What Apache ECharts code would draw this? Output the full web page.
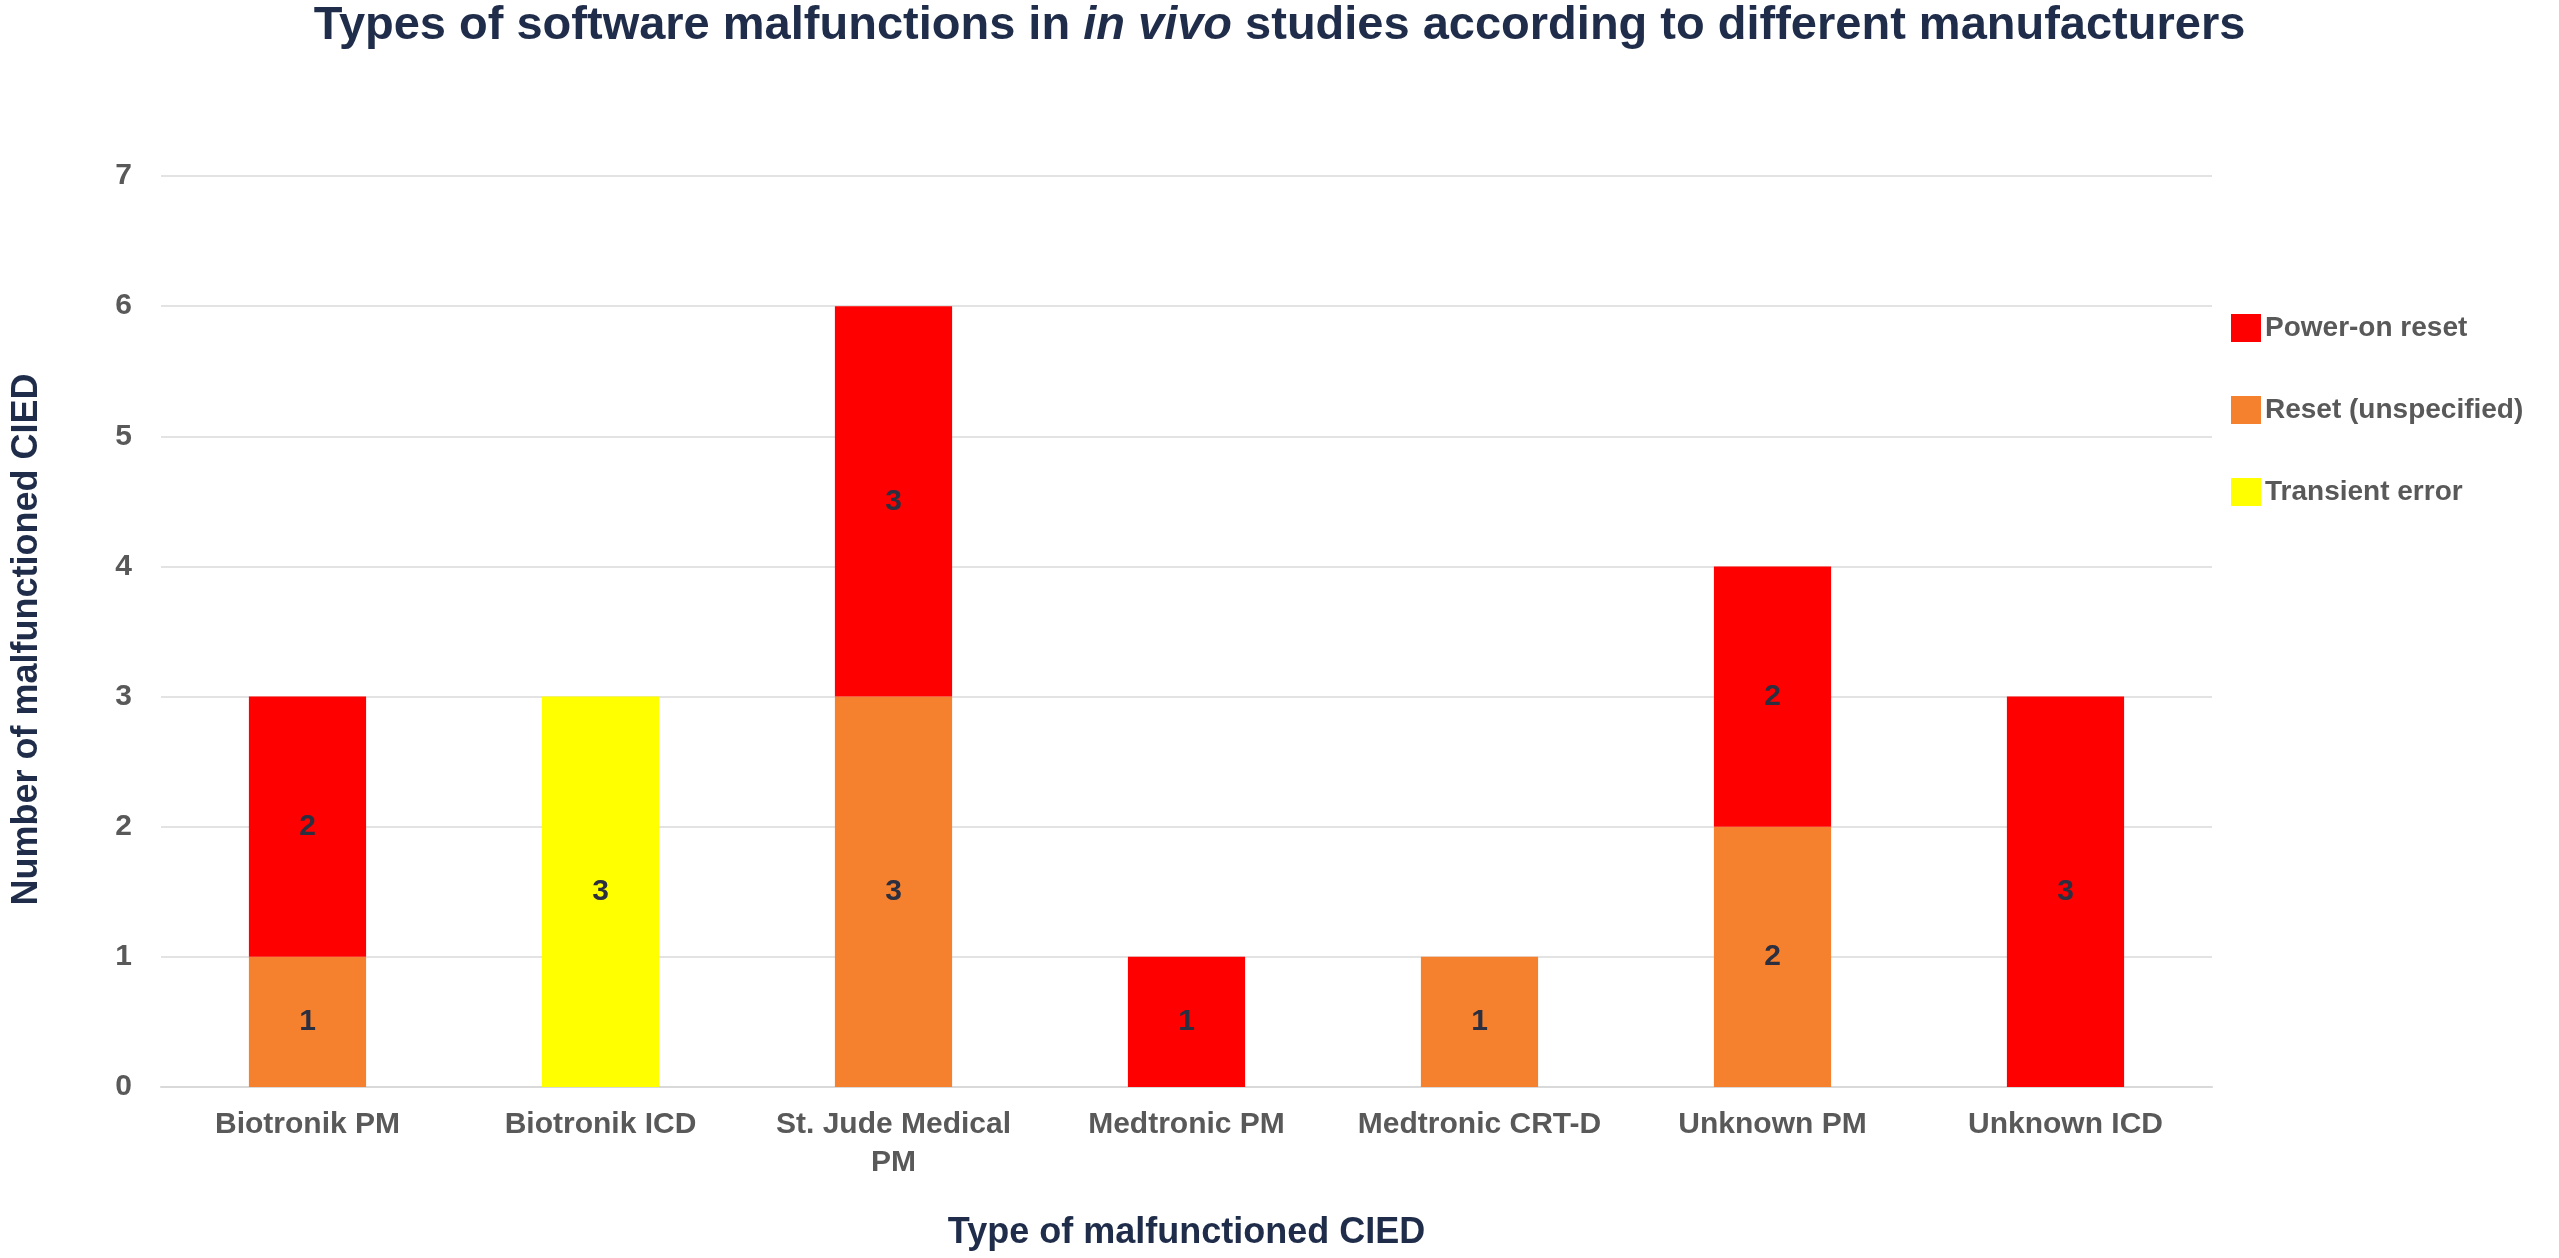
<!DOCTYPE html>
<html>
<head>
<meta charset="utf-8">
<title>Software malfunctions in vivo</title>
<script src="https://cdn.jsdelivr.net/npm/echarts@6/dist/echarts.min.js"></script>
<style>
  html, body { margin: 0; padding: 0; background: #fff; }
  #chart { width: 2559px; height: 1258px; }
</style>
</head>
<body>
<div id="chart"></div>
<script>
// values
var categories = ['Biotronik PM', 'Biotronik ICD', 'St. Jude Medical\nPM', 'Medtronic PM', 'Medtronic CRT-D', 'Unknown PM', 'Unknown ICD'];
var powerOnReset = [2, null, 3, 1, null, 2, 3];
var resetUnspecified = [1, null, 3, null, 1, 2, null];
var transientError = [null, 3, null, null, null, null, null];
var yTicks = [0, 1, 2, 3, 4, 5, 6, 7];

var navy = '#1f2d4a';
var grey = '#595959';

var labelStyle = {
  show: true,
  position: 'inside',
  fontSize: 30,
  fontWeight: 'bold',
  color: '#2b2f3f',
  fontFamily: 'Liberation Sans, Arial, sans-serif'
};

function makeSeries(name, data, color) {
  return {
    name: name,
    type: 'bar',
    stack: 'total',
    barWidth: '40%',
    data: data,
    itemStyle: { color: color },
    label: labelStyle,
    emphasis: { disabled: true }
  };
}

var chart = echarts.init(document.getElementById('chart'));
chart.setOption({
  animation: false,
  textStyle: { fontFamily: 'Liberation Sans, Arial, sans-serif' },
  title: {
    text: '{b|Types of software malfunctions in }{i|in vivo}{b| studies according to different manufacturers}',
    left: 'center',
    top: 3,
    padding: 0,
    textStyle: {
      rich: {
        b: { fontSize: 47, fontWeight: 'bold', color: navy },
        i: { fontSize: 47, fontWeight: 'bold', fontStyle: 'italic', color: navy }
      }
    }
  },
  legend: {
    orient: 'vertical',
    left: 2226,
    top: 309,
    icon: 'rect',
    itemWidth: 30,
    itemHeight: 28,
    itemGap: 54,
    itemStyle: { borderWidth: 0 },
    data: ['Power-on reset', 'Reset (unspecified)', 'Transient error'],
    textStyle: { fontSize: 28, fontWeight: 'bold', color: grey, padding: [0, 0, 0, -1] }
  },
  grid: { left: 161, right: 347, top: 176, bottom: 171, outerBoundsMode: 'none' },
  xAxis: {
    type: 'category',
    data: categories,
    name: 'Type of malfunctioned CIED',
    nameLocation: 'middle',
    nameGap: 128,
    nameTextStyle: { fontSize: 36, fontWeight: 'bold', color: navy },
    axisLine: { lineStyle: { color: '#d9d9d9', width: 2 } },
    axisTick: { show: false },
    axisLabel: { fontSize: 30, fontWeight: 'bold', color: grey, margin: 19, lineHeight: 38, interval: 0 }
  },
  yAxis: {
    type: 'value',
    min: yTicks[0],
    max: yTicks[yTicks.length - 1],
    interval: 1,
    name: 'Number of malfunctioned CIED',
    nameLocation: 'middle',
    nameGap: 116,
    nameTextStyle: { fontSize: 36, fontWeight: 'bold', color: navy, padding: [0, 16, 0, 0] },
    axisLine: { show: false },
    axisTick: { show: false },
    axisLabel: { fontSize: 30, fontWeight: 'bold', color: grey, margin: 29 },
    splitLine: { lineStyle: { color: '#e3e3e3', width: 2 } }
  },
  series: [
    makeSeries('Reset (unspecified)', resetUnspecified, '#f5802d'),
    makeSeries('Power-on reset', powerOnReset, '#ff0000'),
    makeSeries('Transient error', transientError, '#ffff00')
  ]
});
</script>
</body>
</html>
